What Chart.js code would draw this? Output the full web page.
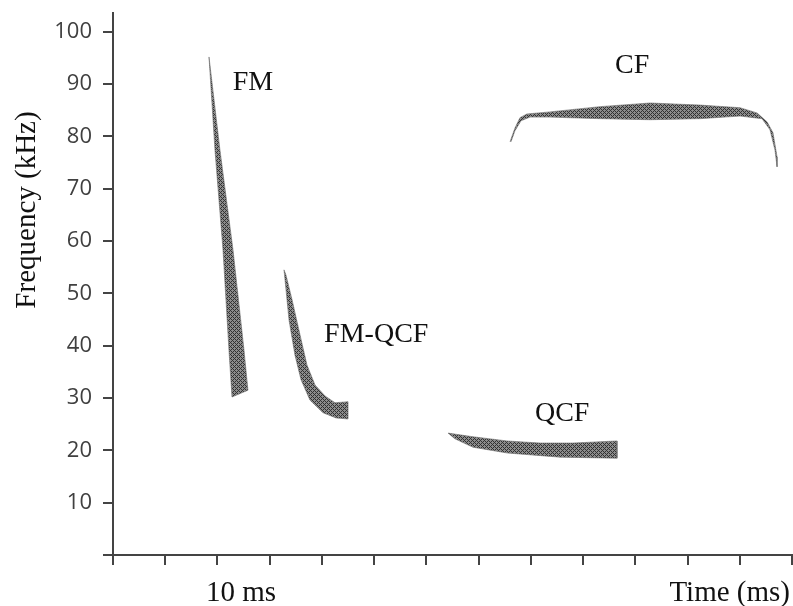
<!DOCTYPE html>
<html><head><meta charset="utf-8">
<script src="https://cdn.jsdelivr.net/npm/chart.js@4.4.0/dist/chart.umd.min.js"></script>
<style>html,body{margin:0;padding:0;background:#fff;overflow:hidden}canvas{display:block}</style>
</head><body><canvas id="c" width="793" height="606"></canvas>
<script>
// ---- data (time in ms, frequency in kHz) ----
const fmTime = [9.19, 10.24, 11.49, 12.54, 12.92, 11.39, 11.10, 10.53, 9.76, 9.19];
const fmFreq = [95.2, 77.4, 58.3, 39.2, 31.5, 30.2, 39.2, 58.3, 77.4, 95.2];

const fmqcfTime = [16.37, 16.85, 17.42, 18.00, 18.86, 20.10, 21.35, 22.50, 22.50, 21.25, 20.30, 19.34, 18.57, 17.90, 17.14, 16.56, 16.37];
const fmqcfFreq = [54.5, 44.9, 38.2, 33.5, 29.6, 27.2, 26.2, 26.0, 29.3, 29.1, 30.4, 32.5, 36.3, 42.1, 48.8, 53.5, 54.5];

const qcfTime = [32.07, 34.46, 37.72, 40.88, 44.04, 48.25, 48.25, 42.79, 37.72, 34.46, 32.74, 32.07];
const qcfFreq = [23.3, 22.6, 21.8, 21.4, 21.4, 21.8, 18.5, 18.7, 19.5, 20.6, 22.2, 23.3];

const cfTime = [38.01, 38.48, 38.96, 39.63, 41.83, 46.62, 51.41, 56.19, 60.02, 61.65, 62.61, 63.18, 63.57, 63.57,
                63.37, 62.89, 62.13, 60.02, 56.19, 51.41, 46.62, 41.83, 39.92, 39.06, 38.48, 38.10, 38.01];
const cfFreq = [79.0, 81.6, 83.6, 84.3, 84.7, 85.7, 86.4, 86.0, 85.5, 84.5, 82.8, 80.7, 76.1, 74.2,
                77.4, 81.3, 83.4, 83.9, 83.4, 83.2, 83.4, 83.7, 83.7, 83.0, 81.1, 79.0, 79.0];

const yTickValues = [0, 10, 20, 30, 40, 50, 60, 70, 80, 90, 100];
const xTickStep = 5;
const labelTexts = ['FM', 'FM-QCF', 'QCF', 'CF'];
const labelTime = [13.4, 25.2, 43.0, 49.7];
const labelFreq = [90.2, 42.1, 27.0, 93.5];
const xAxisNote = '10 ms';
const xAxisNoteTime = 12.25;
const xTitle = 'Time (ms)';
const yTitle = 'Frequency (kHz)';

// ---- styling ----
function pts(t, f) { return t.map((v, i) => ({x: v, y: f[i]})); }
function makePattern() {
  const c = document.createElement('canvas'); c.width = 4; c.height = 4;
  const g = c.getContext('2d');
  const img = g.createImageData(4, 4);
  for (let j = 0; j < 4; j++) for (let i = 0; i < 4; i++) {
    const dark = ((i + j) % 4 === 0) || (((i - j) + 8) % 4 === 0);
    const v = dark ? 50 : 140;
    const k = (j * 4 + i) * 4;
    img.data[k] = v; img.data[k+1] = v; img.data[k+2] = v; img.data[k+3] = 255;
  }
  g.putImageData(img, 0, 0);
  return g.createPattern(c, 'repeat');
}
const pat = makePattern();
function shape(t, f) {
  return {data: pts(t, f), showLine: true, fill: 'shape', backgroundColor: pat,
          borderColor: 'rgba(110,110,110,0.6)', borderWidth: 1, pointRadius: 0, tension: 0};
}

const textPlugin = {
  id: 'texts',
  afterDatasetsDraw(chart) {
    const {ctx, scales: {x, y}} = chart;
    ctx.save();
    ctx.fillStyle = '#111';
    ctx.textAlign = 'center'; ctx.textBaseline = 'middle';
    ctx.font = '28px "Liberation Serif", "Times New Roman", serif';
    labelTexts.forEach((s, i) => ctx.fillText(s, x.getPixelForValue(labelTime[i]), y.getPixelForValue(labelFreq[i])));
    ctx.font = '29px "Liberation Serif", "Times New Roman", serif';
    ctx.textBaseline = 'alphabetic';
    ctx.fillText(xAxisNote, x.getPixelForValue(xAxisNoteTime), 601);
    ctx.textAlign = 'right';
    ctx.fillText(xTitle, 790, 601);
    ctx.translate(27, 210);
    ctx.rotate(-Math.PI / 2);
    ctx.textAlign = 'center'; ctx.textBaseline = 'middle';
    ctx.font = '29px "Liberation Serif", "Times New Roman", serif';
    ctx.fillText(yTitle, 0, 0);
    ctx.restore();
  }
};

new Chart(document.getElementById('c'), {
  type: 'scatter',
  data: {datasets: [shape(fmTime, fmFreq), shape(fmqcfTime, fmqcfFreq), shape(qcfTime, qcfFreq), shape(cfTime, cfFreq)]},
  options: {
    responsive: false, animation: false, devicePixelRatio: 1,
    layout: {padding: {top: 13, right: 1, left: 0, bottom: 0}},
    plugins: {legend: {display: false}, tooltip: {enabled: false}},
    scales: {
      x: {
        type: 'linear', min: 0, max: 65,
        afterFit(s) { s.height = 51; s.paddingLeft = 0; s.paddingRight = 0; },
        afterBuildTicks(s) { const t = []; for (let v = 0; v <= 65; v += xTickStep) t.push({value: v}); s.ticks = t; },
        ticks: {callback: () => ''},
        grid: {drawOnChartArea: false, drawTicks: true, tickLength: 10, color: '#444', lineWidth: 2},
        border: {display: true, color: '#444', width: 2}
      },
      y: {
        type: 'linear', min: 0, max: 103.6,
        afterFit(s) { s.width = 113; s.paddingTop = 0; s.paddingBottom = 0; },
        afterBuildTicks(s) { s.ticks = yTickValues.map(v => ({value: v})); },
        ticks: {callback: v => (v === 0 ? '' : String(v)), padding: 11, color: '#404040',
                font: {family: '"Open Sans", sans-serif', size: 22}},
        grid: {drawOnChartArea: false, drawTicks: true, tickLength: 10, color: '#444', lineWidth: 2},
        border: {display: true, color: '#444', width: 2}
      }
    }
  },
  plugins: [textPlugin]
});
</script></body></html>
